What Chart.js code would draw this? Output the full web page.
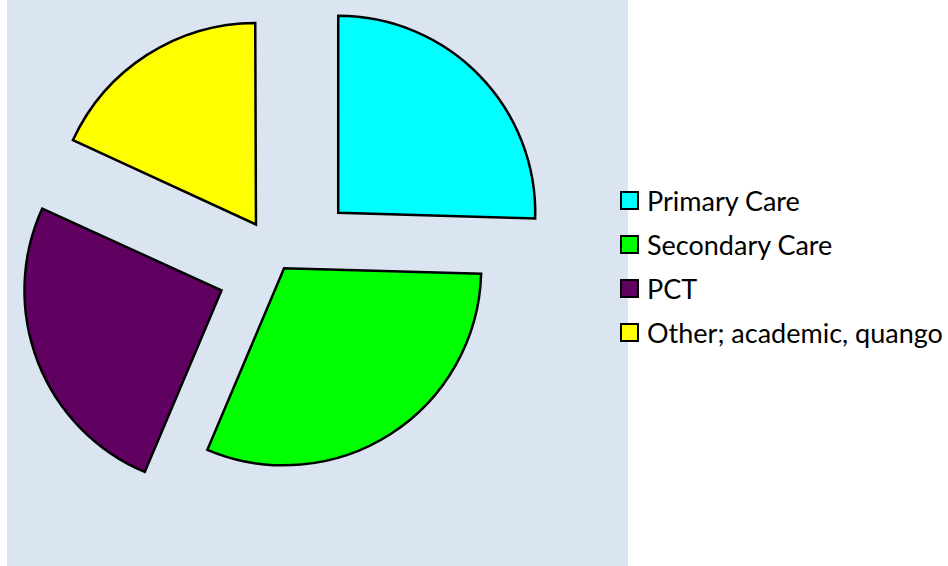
<!DOCTYPE html>
<html>

<head>
  <title>Respondents by sector</title>
  <script src="https://cdn.jsdelivr.net/npm/chart.js@4.4.0/dist/chart.umd.min.js"></script>
  <style>
    body { margin: 0; width: 948px; height: 566px; background: #ffffff; position: relative; overflow: hidden; }
    #plot-bg { position: absolute; left: 7px; top: 0; width: 621px; height: 566px; background: #dbe5f1; }
    #pie-box { position: absolute; left: 0; top: 0; width: 566px; height: 533px; }
    .legend-box { position: absolute; left: 620px; width: 19px; height: 19px; box-sizing: border-box; border: 2px solid #000; }
    .legend-text { position: absolute; left: 647px; font-family: Lato, sans-serif; font-size: 27px; line-height: 27px; color: #000; white-space: nowrap; }
  </style>
</head>

<body>
  <div id="plot-bg"></div>
  <div id="pie-box"><canvas id="pieChart"></canvas></div>
  <div id="legend"></div>
  <script>
    const sectors = ['Primary Care', 'Secondary Care', 'PCT', 'Other; academic, quango'];
    const counts = [14, 17, 14, 10];
    const sliceColors = ['#00ffff', '#00ff00', '#600060', '#ffff00'];
    // how far each slice is pulled out of the pie
    const explode = [77, 2, 66, 50];

    const ctx = document.getElementById('pieChart').getContext('2d');
    const pieChart = new Chart(ctx, {
      type: 'pie',
      data: {
        labels: sectors,
        datasets: [{
          data: counts,
          backgroundColor: sliceColors,
          borderColor: '#000000',
          borderWidth: 2.5,
          borderJoinStyle: 'miter',
          offset: explode.map(d => d * 4)
        }]
      },
      options: {
        responsive: true,
        maintainAspectRatio: false,
        animation: false,
        radius: 197,
        layout: { padding: 0 },
        plugins: {
          legend: { display: false },
          tooltip: { enabled: false }
        }
      }
    });

    const legend = document.getElementById('legend');
    for (let i = 0; i < sectors.length; i++) {
      const box = document.createElement('div');
      box.className = 'legend-box';
      box.style.top = (191 + 44 * i) + 'px';
      box.style.background = sliceColors[i];
      legend.appendChild(box);
      const text = document.createElement('div');
      text.className = 'legend-text';
      text.style.top = (187 + 44 * i) + 'px';
      text.textContent = sectors[i];
      legend.appendChild(text);
    }
  </script>
</body>

</html>
